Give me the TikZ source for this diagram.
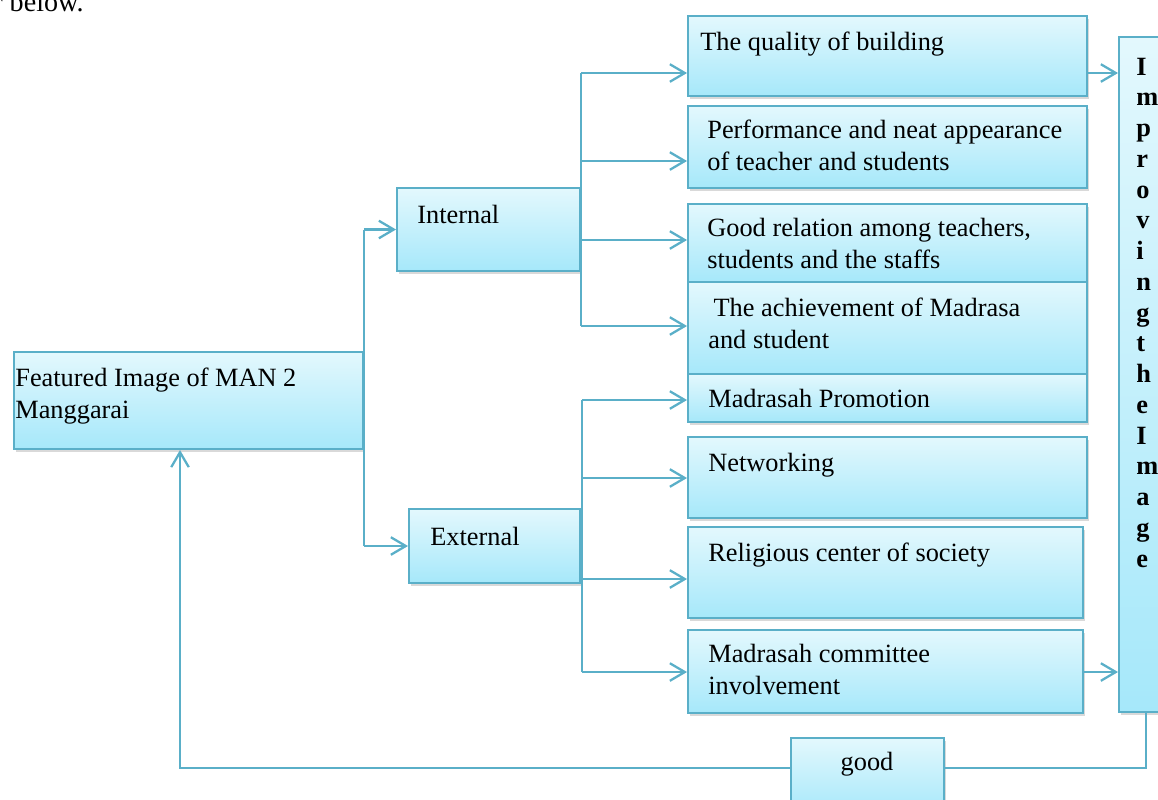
\documentclass[tikz,border=0pt]{standalone}
\usepackage{fontspec}
\setmainfont{Liberation Serif}
\usetikzlibrary{arrows.meta,fit,shadows}
\definecolor{edge}{HTML}{5AAFC8}
\definecolor{topc}{HTML}{E3F8FD}
\definecolor{botc}{HTML}{A6E8FA}
\tikzset{
  box/.style={draw=edge, line width=1.1pt, top color=topc, bottom color=botc, inner sep=0pt,
    drop shadow={shadow xshift=1.2pt, shadow yshift=-1.5pt, opacity=0.3}},
  txt/.style={anchor=base west, inner sep=0pt, align=left, font=\fontsize{15}{17.8}\selectfont},
  conn/.style={draw=edge, line width=1.3pt},
  arr/.style={conn, -{Straight Barb[length=8.5pt, width=10pt, line width=1.3pt]}}
}
\begin{document}
\begin{tikzpicture}[x=0.02cm, y=-0.02cm]
\useasboundingbox (0,0) rectangle (1158,799);
\clip (0,0) rectangle (1158,799);

\node[anchor=base west, inner sep=0pt, font=\fontsize{16}{19}\selectfont] (cut) at (-7,11) {r below.};

% boxes (base anchor of a multi-line text is its last line)
\node[box, fit={(14,352) (363,449)}] (feat) {};
\node[txt] (featt) at (15,418) {Featured Image of MAN 2\\Manggarai};
\node[box, fit={(397,188) (580,271)}] (int) {};
\node[txt] (intt) at (417,223) {Internal};
\node[box, fit={(409,509) (580,583)}] (ext) {};
\node[txt] (extt) at (430,545) {External};

\node[box, fit={(688,16) (1087,96)}] (q1) {};
\node[txt] (q1t) at (700,50) {The quality of building};
\node[box, fit={(688,106) (1087,188)}] (q2) {};
\node[txt] (q2t) at (707,170) {Performance and neat appearance\\of teacher and students};
\node[box, fit={(688,204) (1087,282)}] (q3) {};
\node[txt] (q3t) at (707,268) {Good relation among teachers,\\students and the staffs};
\node[box, fit={(688,282) (1087,374)}] (q4) {};
\node[txt] (q4t) at (708,348) {\hspace{3pt}The achievement of Madrasa\\and student};
\node[box, fit={(688,374) (1087,422)}] (q5) {};
\node[txt] (q5t) at (708,407) {Madrasah Promotion};
\node[box, fit={(688,437) (1087,518)}] (q6) {};
\node[txt] (q6t) at (708,471) {Networking};
\node[box, fit={(688,527) (1083,618)}] (q7) {};
\node[txt] (q7t) at (708,561) {Religious center of society};
\node[box, fit={(688,630) (1083,713)}] (q8) {};
\node[txt] (q8t) at (708,694) {Madrasah committee\\involvement};

\node[box, fit={(1119,37) (1185,712)}] (imp) {};
\node[anchor=base west, inner sep=0pt, align=left, font=\bfseries\fontsize{15}{17.5}\selectfont] (impt) at (1136,567)
  {I\\m\\p\\r\\o\\v\\i\\n\\g\\t\\h\\e\\I\\m\\a\\g\\e};

\node[box, fit={(791,738) (944,815)}] (good) {};
\node[anchor=base, inner sep=0pt, font=\fontsize{15}{17.8}\selectfont] (goodt) at (867,770) {good};

% connectors from featured
\draw[conn] (int.west -| feat.east) -- (ext.west -| feat.east);
\draw[arr] (int.west -| feat.east) -- (int.west);
\draw[arr] (ext.west -| feat.east) -- (ext.west);

% internal branches
\coordinate (i1) at (581,73);
\coordinate (i2) at (581,161);
\coordinate (i3) at (581,240);
\coordinate (i4) at (581,326);
\draw[conn] (i1) -- (i4);
\draw[arr] (i1) -- (i1 -| q1.west);
\draw[arr] (i2) -- (i2 -| q2.west);
\draw[arr] (i3) -- (i3 -| q3.west);
\draw[arr] (i4) -- (i4 -| q4.west);

% external branches
\coordinate (e1) at (582,400);
\coordinate (e2) at (582,478);
\coordinate (e3) at (582,579);
\coordinate (e4) at (582,672);
\draw[conn] (e1) -- (e4);
\draw[arr] (e1) -- (e1 -| q5.west);
\draw[arr] (e2) -- (e2 -| q6.west);
\draw[arr] (e3) -- (e3 -| q7.west);
\draw[arr] (e4) -- (e4 -| q8.west);

% to improving
\draw[arr] (q1.east |- i1) -- (imp.west |- i1);
\draw[arr] (q8.east |- e4) -- (imp.west |- e4);

% feedback
\coordinate (fb) at (1146,768);
\coordinate (fl) at (180,768);
\draw[conn] (imp.south -| fb) -- (fb) -- (good.east |- fb);
\draw[arr] (good.west |- fb) -- (fl) -- (feat.south -| fl);
\end{tikzpicture}
\end{document}
